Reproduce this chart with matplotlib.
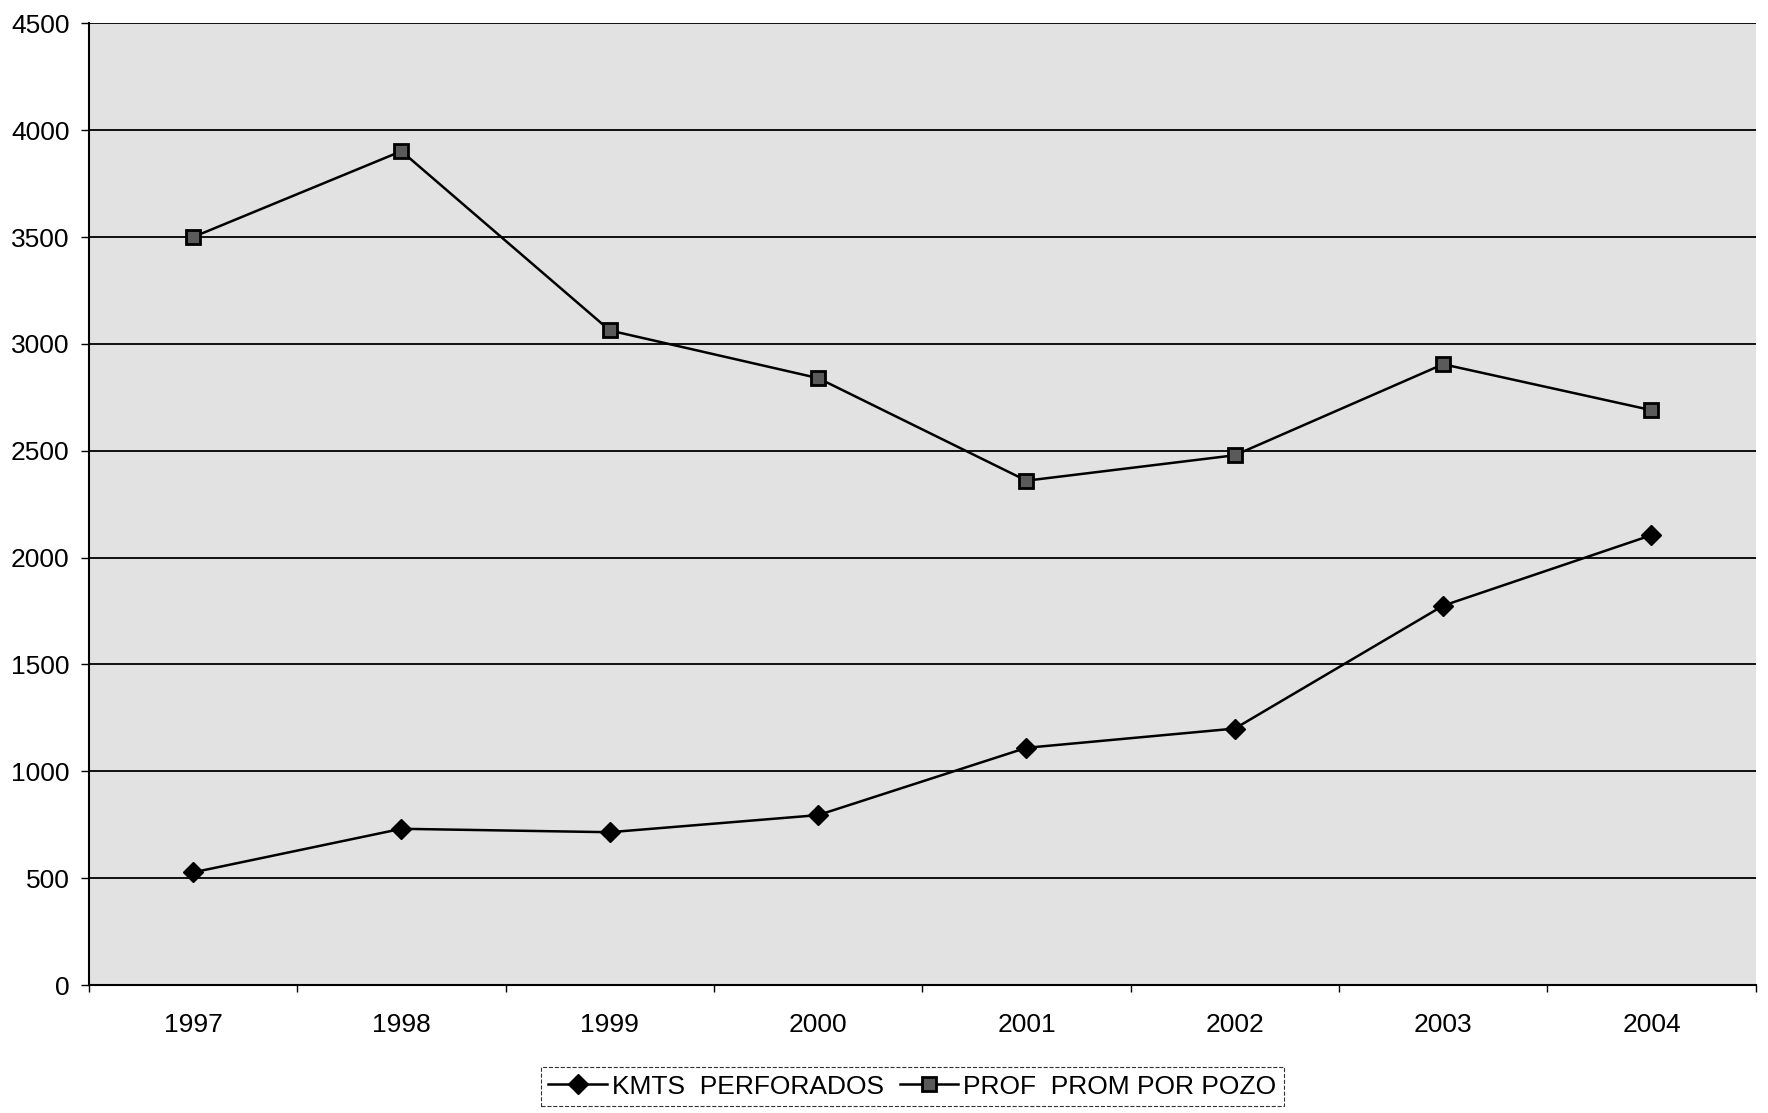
import matplotlib.pyplot as plt
import numpy as np

plt.rcParams['font.family'] = ['Liberation Sans', 'DejaVu Sans']

# Datos
anios = ['1997', '1998', '1999', '2000', '2001', '2002', '2003', '2004']
kmts_perforados = [527, 731, 715, 795, 1110, 1200, 1775, 2105]
prof_prom_pozo = [3500, 3902, 3063, 2840, 2360, 2479, 2905, 2690]

fig = plt.figure(figsize=(17.68, 11.13), dpi=100)
ax = fig.add_axes([0.0503, 0.115, 0.9427, 0.864])
ax.set_facecolor('#e2e2e2')

x = np.arange(len(anios))
ax.plot(x, kmts_perforados, color='black', linewidth=1.8, marker='D',
        markersize=10, markerfacecolor='black', markeredgecolor='black',
        label='KMTS  PERFORADOS', zorder=4)
ax.plot(x, prof_prom_pozo, color='black', linewidth=1.8, marker='s',
        markersize=10, markerfacecolor='#5a5a5a', markeredgecolor='black',
        markeredgewidth=2, label='PROF  PROM POR POZO', zorder=4)

ax.set_xlim(-0.5, len(anios) - 0.5)
ax.set_ylim(0, 4500)
ax.set_yticks(np.arange(0, 4501, 500))
ax.set_xticks(x)
ax.set_xticklabels(anios)
ax.set_xticks(np.arange(-0.5, len(anios), 1), minor=True)

ax.yaxis.grid(True, color='black', linewidth=1.3)
ax.set_axisbelow(True)

for s in ['top', 'right']:
    ax.spines[s].set_visible(False)
ax.spines['left'].set_linewidth(1.5)
ax.spines['bottom'].set_linewidth(1.5)

ax.tick_params(axis='y', labelsize=19, length=6, width=1, pad=8, direction='out')
ax.tick_params(axis='x', which='major', length=0, labelsize=19, pad=20)
ax.tick_params(axis='x', which='minor', length=5, width=1, direction='out')

leg = fig.legend(loc='lower center', bbox_to_anchor=(0.516, -0.006), ncol=2,
                 fontsize=19, frameon=True, handlelength=2.2, handletextpad=0.2,
                 columnspacing=0.6, borderpad=0.3, fancybox=False)
leg.get_frame().set_edgecolor('black')
leg.get_frame().set_linestyle('--')
leg.get_frame().set_linewidth(0.8)

fig.savefig('out.png', dpi=100)
